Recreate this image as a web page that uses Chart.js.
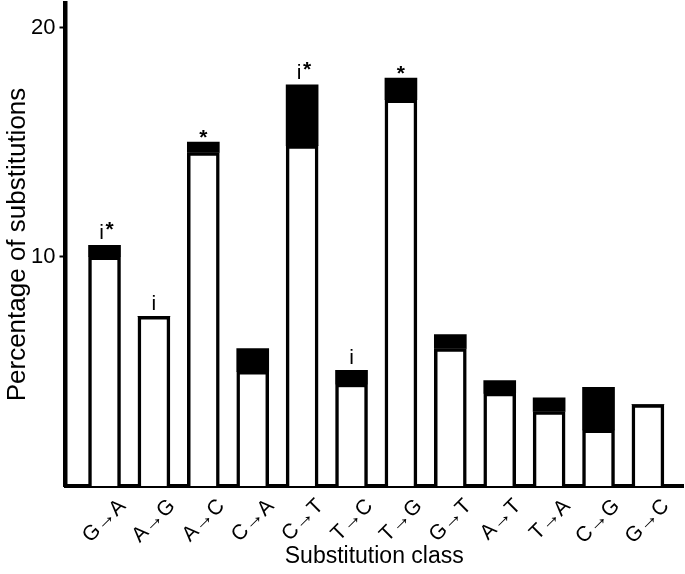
<!DOCTYPE html>
<html>
<head>
<meta charset="utf-8">
<script src="https://cdn.jsdelivr.net/npm/chart.js@4/dist/chart.umd.min.js"></script>
<style>
  html, body { margin: 0; padding: 0; background: #fff; }
  #wrap { width: 685px; height: 574px; }
</style>
</head>
<body>
<div id="wrap"><canvas id="c" width="685" height="574"></canvas></div>
<script>
const categories = ['G→A','A→G','A→C','C→A','C→T','T→C','T→G','G→T','A→T','T→A','C→G','G→C'];
const whiteValues = [10.0, 7.4, 14.55, 5.0, 14.85, 4.45, 16.85, 6.0, 4.05, 3.25, 2.45, 3.55];
const blackValues = [0.5, 0, 0.45, 1.0, 2.65, 0.6, 0.95, 0.6, 0.55, 0.6, 1.85, 0];
const marks = ['i*','i','*','','i*','i','*','','','','',''];
const yTickValues = [10, 20];

const FONT = "'Liberation Sans', Arial, Helvetica, sans-serif";

const markPlugin = {
  id: 'marks',
  afterDatasetsDraw(chart) {
    const ctx = chart.ctx;
    const meta = chart.getDatasetMeta(1);
    ctx.save();
    ctx.fillStyle = '#000';
    ctx.textAlign = 'center';
    ctx.textBaseline = 'alphabetic';
    marks.forEach((m, i) => {
      if (!m) return;
      const el = meta.data[i];
      if (m === '*') {
        ctx.font = 'bold 21px ' + FONT;
        ctx.fillText('*', el.x, el.y + 2);
      } else if (m === 'i') {
        ctx.font = '21px ' + FONT;
        ctx.fillText('i', el.x, el.y - 6);
      } else {
        ctx.font = '21px ' + FONT;
        ctx.fillText('i', el.x - 3, el.y - 6);
        ctx.font = 'bold 21px ' + FONT;
        ctx.fillText('*', el.x + 5, el.y - 9);
      }
    });
    ctx.restore();
  }
};

new Chart(document.getElementById('c'), {
  type: 'bar',
  data: {
    datasets: [
      {
        data: whiteValues.map((v, i) => ({ x: i, y: v })),
        backgroundColor: '#fff',
        borderColor: '#000',
        borderWidth: 3.5,
        borderSkipped: 'bottom',
        barThickness: 32
      },
      {
        data: blackValues.map((v, i) => ({ x: i, y: v })),
        backgroundColor: '#000',
        borderWidth: 0,
        barThickness: 32
      }
    ]
  },
  options: {
    responsive: false,
    animation: false,
    layout: { padding: { top: 3, right: 2, left: 0, bottom: 0 } },
    plugins: { legend: { display: false }, tooltip: { enabled: false } },
    scales: {
      x: {
        type: 'linear',
        offset: false,
        stacked: true,
        min: -0.79,
        max: 11.71,
        afterBuildTicks: s => { s.ticks = categories.map((_, i) => ({ value: i })); },
        afterFit: s => { s.height = 88; s.paddingLeft = 0; s.paddingRight = 0; },
        grid: { display: false, offset: false },
        border: { display: true, color: '#000', width: 4 },
        ticks: {
          autoSkip: false,
          maxRotation: 45,
          minRotation: 45,
          padding: 0,
          labelOffset: 18,
          color: '#000',
          font: { family: FONT, size: 21 },
          callback: v => categories[v]
        },
        title: {
          display: true,
          text: 'Substitution class',
          color: '#000',
          font: { family: FONT, size: 23 },
          padding: { top: 0, bottom: 4 }
        }
      },
      y: {
        stacked: true,
        min: 0,
        max: 21.07,
        afterBuildTicks: s => { s.ticks = yTickValues.map(v => ({ value: v })); },
        afterFit: s => { s.width = 65.5; s.paddingTop = 0; s.paddingBottom = 0; },
        grid: { drawOnChartArea: false, tickLength: 6, tickWidth: 2, tickColor: '#000' },
        border: { display: true, color: '#000', width: 4.5 },
        ticks: {
          color: '#000',
          padding: 4,
          font: { family: FONT, size: 22 }
        },
        title: {
          display: true,
          text: 'Percentage of substitutions',
          color: '#000',
          font: { family: FONT, size: 26 },
          padding: { top: 2, bottom: 0 }
        }
      }
    }
  },
  plugins: [markPlugin]
});
</script>
</body>
</html>
